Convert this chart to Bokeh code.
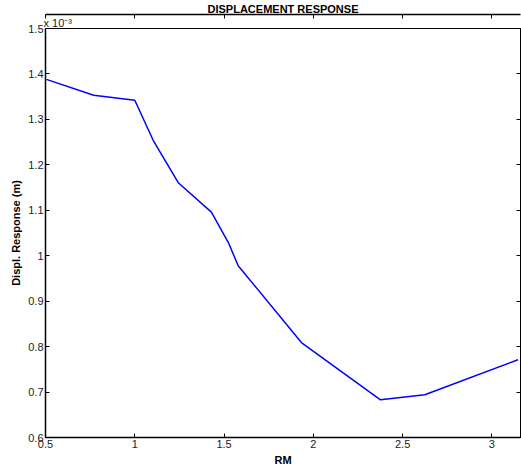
from bokeh.plotting import figure
from bokeh.models import (LinearAxis, FixedTicker, CustomJSTickFormatter, Title, Range1d)
from bokeh.embed import file_html
from bokeh.resources import INLINE

# Data (displacement in units of 1e-3 m)
rm = [0.505, 0.77, 1.0, 1.103, 1.245, 1.429, 1.524, 1.579, 1.933, 2.376, 2.624, 3.146]
disp = [1.388, 1.353, 1.342, 1.254, 1.160, 1.096, 1.029, 0.978, 0.809, 0.683, 0.694, 0.771]

x_ticks = [0.5, 1.0, 1.5, 2.0, 2.5, 3.0]
y_ticks = [0.6, 0.7, 0.8, 0.9, 1.0, 1.1, 1.2, 1.3, 1.4, 1.5]

FONT = "Liberation Sans"
W, H = 521, 470

p = figure(width=W, height=H, output_backend="svg", toolbar_location=None,
           x_range=Range1d(0.5, 3.16), y_range=Range1d(0.6, 1.5),
           min_border_left=45, min_border_right=1, min_border_top=27, min_border_bottom=33)
p.grid.visible = False
p.outline_line_color = "black"
p.outline_line_width = 1
p.background_fill_color = "white"
p.border_fill_color = "white"

fmt = CustomJSTickFormatter(code="return tick.toFixed(1).replace(/\\.0$/, '');")
blank = CustomJSTickFormatter(code="return '';")

for ax in p.xaxis:
    ax.ticker = FixedTicker(ticks=x_ticks)
    ax.formatter = fmt
for ax in p.yaxis:
    ax.ticker = FixedTicker(ticks=y_ticks)
    ax.formatter = fmt

for ax in list(p.xaxis) + list(p.yaxis):
    ax.major_tick_in = 4
    ax.major_tick_out = 0
    ax.minor_tick_in = 0
    ax.minor_tick_out = 0
    ax.axis_line_width = 1.5
    ax.major_tick_line_width = 1
    ax.major_label_text_font = FONT
    ax.major_label_text_font_size = "11px"
    ax.major_label_text_color = "#222222"
    ax.major_label_standoff = 2
    ax.axis_label_text_font = FONT
    ax.axis_label_text_font_style = "bold"
    ax.axis_label_text_font_size = "11px"
    ax.axis_label_text_color = "black"
    ax.axis_label_standoff = 3

p.xaxis.axis_label = "RM"
p.yaxis.axis_label = "Displ. Response (m)"

right = LinearAxis(ticker=FixedTicker(ticks=y_ticks), formatter=blank,
                   major_tick_in=4, major_tick_out=0, minor_tick_in=0, minor_tick_out=0,
                   axis_line_width=1, major_label_standoff=0)
p.add_layout(right, "right")

p.title.text = "DISPLACEMENT RESPONSE"
p.title.align = "center"
p.title.text_font = FONT
p.title.text_font_style = "bold"
p.title.text_font_size = "11px"
p.title.text_color = "black"
p.title.standoff = 0

p.add_layout(Title(text="x 10\u207b\u00b3", align="left", text_font=FONT,
                   text_font_style="normal", text_font_size="11px",
                   text_color="#222222", standoff=0, offset=-2), "above")

top = LinearAxis(ticker=FixedTicker(ticks=x_ticks), formatter=blank,
                 major_tick_in=4, major_tick_out=0, minor_tick_in=0, minor_tick_out=0,
                 axis_line_width=1.5, major_label_standoff=0)
p.add_layout(top, "above")

p.line(rm, disp, line_color="#0000ff", line_width=1.5)

open("out.html", "w").write(file_html(p, INLINE))
